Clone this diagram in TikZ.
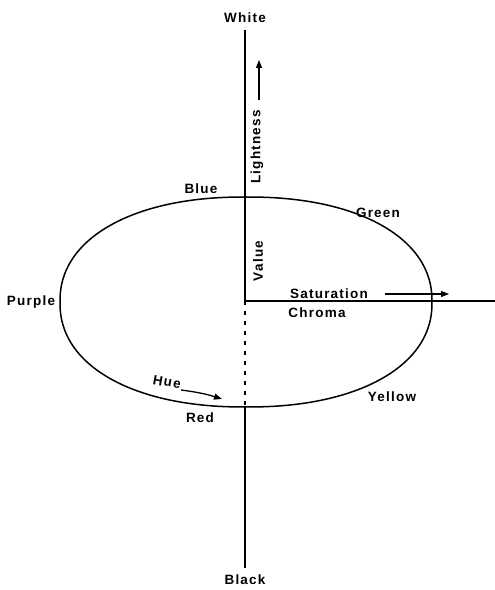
\documentclass[tikz,border=0pt]{standalone}
\usepackage{fontspec}
\setmainfont{Liberation Sans}[LetterSpace=9]
\usetikzlibrary{arrows.meta}
\begin{document}
\begin{tikzpicture}[x=1pt,y=1pt,
  lbl/.style={font=\bfseries\fontsize{13.5}{14}\selectfont, inner sep=0pt},
  axis/.style={line width=1.5pt},
  arr/.style={line width=1.3pt,-{Triangle[length=8pt,width=6pt]}}]
\useasboundingbox (0,0) rectangle (495,590);
% points
\coordinate (O) at (245,289);
\coordinate (T) at (245,560);
\coordinate (B) at (245,22);
\coordinate (R) at (245,183);
\coordinate (E) at (495,289);
\coordinate (C) at (246,288);
% axes
\draw[axis] (O) -- (T);
\draw[axis] (O) -- (E);
\draw[axis] (R) -- (B);
\draw[line width=1.5pt, dash pattern=on 4pt off 6pt] (O) -- (R);
% color solid (superellipse)
\draw[axis, shift={(C)}] plot[domain=0:360, samples=241, smooth]
  ({186*sign(cos(\x))*abs(cos(\x))^(0.909)}, {105*sign(sin(\x))*abs(sin(\x))^(0.909)}) -- cycle;
% arrows
\coordinate (s1) at (385,296);
\coordinate (s2) at (449,296);
\draw[arr] (s1) -- (s2);
\coordinate (l1) at (259,490);
\coordinate (l2) at (259,530);
\draw[arr] (l1) -- (l2);
\coordinate (h1) at (181,200);
\coordinate (h2) at (222,191);
\draw[arr] (h1) to[bend left=5] (h2);
% labels
\node[lbl] (white) at (245,572) {White};
\node[lbl] (black) at (245,10) {Black};
\node[lbl] (blue) at (201,401) {Blue};
\node[lbl] (green) at (378,377) {Green};
\node[lbl] (purple) at (31,288) {Purple};
\node[lbl] (sat) at (329,296) {Saturation};
\node[lbl] (chroma) at (317,277) {Chroma};
\node[lbl, rotate=-10] (hue) at (167,208) {Hue};
\node[lbl] (red) at (200,172) {Red};
\node[lbl] (yellow) at (392,193) {Yellow};
\node[lbl, rotate=90] (value) at (258,329) {Value};
\node[lbl, rotate=90] (light) at (257,443) {Lightness};
\end{tikzpicture}
\end{document}
